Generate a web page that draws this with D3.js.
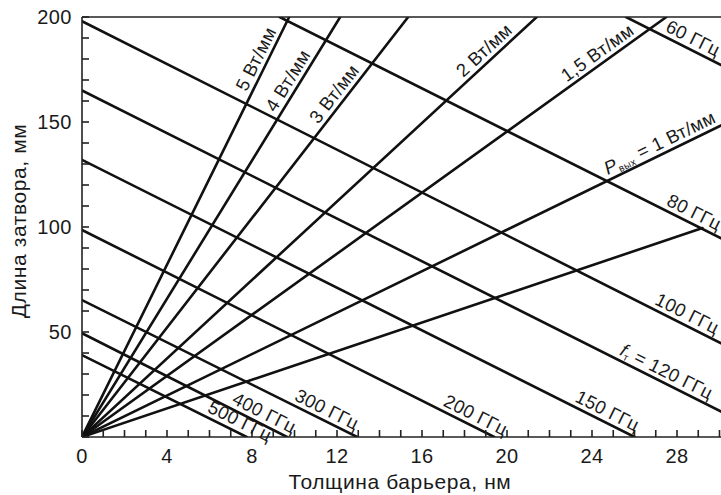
<!DOCTYPE html>
<html lang="ru">
<head>
<meta charset="UTF-8">
<title>Длина затвора vs толщина барьера</title>
<script src="https://d3js.org/d3.v7.min.js"></script>
<style>
  body { margin: 0; background: #fff; }
  text { font-family: "Liberation Sans", Arial, Helvetica, sans-serif; fill: #1a1a1a; }
</style>
</head>
<body>

<div id="chart"></div>

<script>

const width = 721;
const height = 495;

// Frequency lines (f_T), visible segment ends in data units (нм, мм)
const freqNames = ["500 ГГц", "400 ГГц", "300 ГГц", "200 ГГц", "150 ГГц", "120 ГГц", "100 ГГц", "80 ГГц", "60 ГГц"];
const freqX0 = [0, 0, 0, 0, 0, 0, 0, 9.3, 25.6];
const freqY0 = [39, 49.4, 65.2, 98.6, 132, 165, 198, 200, 200];
const freqX1 = [7.75, 9.65, 12.95, 19.4, 26.0, 30.2, 30.2, 30.2, 30.2];
const freqY1 = [0, 0, 0, 0, 0, 11.5, 44, 94, 176.5];
// where along each line the label starts (x, нм)
const freqLabelX = [5.75, 6.9, 9.85, 16.85, 23.05, 25.15, 26.8, 27.35, 27.3];

// Output power lines, all start at the origin
const powerNames = ["5 Вт/мм", "4 Вт/мм", "3 Вт/мм", "2 Вт/мм", "1,5 Вт/мм", "1 Вт/мм", ""];
const powerX1 = [9.75, 12.15, 15.35, 21.4, 27.5, 30.2, 29.2];
const powerY1 = [200, 200, 200, 200, 200, 149, 99.5];
const powerLabelX = [7.95, 9.3, 11.3, 18.1, 22.95, 24.85, null];

// Axis ticks
const xTickLabels = [0, 4, 8, 12, 16, 20, 24, 28];
const xMinorTicks = d3.range(0, 31, 1);
const yTickLabels = [50, 100, 150, 200];
const yMinorTicks = d3.range(0, 201, 10);

const x = d3.scaleLinear().domain([0, 30.2]).range([82, 82 + 30.2 * 21.25]);
const y = d3.scaleLinear().domain([0, 200]).range([437, 17]);

const svg = d3.select("#chart")
  .append("svg")
    .attr("width", width)
    .attr("height", height);

svg.append("defs").append("clipPath")
    .attr("id", "plot")
  .append("rect")
    .attr("x", x(0)).attr("y", y(200))
    .attr("width", x(30.2) - x(0)).attr("height", y(0) - y(200));

// build the segments from the arrays above
const freqLines = freqNames.map((name, i) => ({
  name, x0: freqX0[i], y0: freqY0[i], x1: freqX1[i], y1: freqY1[i], lx: freqLabelX[i]
}));
const powerLines = powerNames.map((name, i) => ({
  name, x0: 0, y0: 0, x1: powerX1[i], y1: powerY1[i], lx: powerLabelX[i]
}));
const allLines = freqLines.concat(powerLines);

svg.append("g")
    .attr("clip-path", "url(#plot)")
  .selectAll("line")
  .data(allLines)
  .join("line")
    .attr("x1", d => x(d.x0))
    .attr("y1", d => y(d.y0))
    .attr("x2", d => x(d.x1))
    .attr("y2", d => y(d.y1))
    .attr("stroke", "#111")
    .attr("stroke-width", 2.6)
    .attr("stroke-linecap", "round");

// axes frame: left, bottom, top
const frame = svg.append("g").attr("stroke", "#222").attr("stroke-width", 1.6);
frame.append("line").attr("x1", x(0)).attr("y1", y(0)).attr("x2", x(0)).attr("y2", y(200));
frame.append("line").attr("x1", x(0)).attr("y1", y(0)).attr("x2", width).attr("y2", y(0));
frame.append("line").attr("x1", x(0)).attr("y1", y(200)).attr("x2", width).attr("y2", y(200));

// inward ticks
frame.selectAll(".xt")
  .data(xMinorTicks)
  .join("line")
    .attr("class", "xt")
    .attr("x1", d => x(d)).attr("x2", d => x(d))
    .attr("y1", y(0)).attr("y2", y(0) - 7);

frame.selectAll(".yt")
  .data(yMinorTicks)
  .join("line")
    .attr("class", "yt")
    .attr("x1", x(0)).attr("x2", x(0) + 7)
    .attr("y1", d => y(d)).attr("y2", d => y(d));

svg.selectAll(".xl")
  .data(xTickLabels)
  .join("text")
    .attr("class", "xl")
    .attr("x", d => x(d))
    .attr("y", y(0) + 26)
    .attr("text-anchor", "middle")
    .style("font-size", "20px")
    .style("letter-spacing", "0.5px")
    .text(d => d);

svg.selectAll(".yl")
  .data(yTickLabels)
  .join("text")
    .attr("class", "yl")
    .attr("x", x(0) - 10)
    .attr("y", d => y(d) + 7)
    .attr("text-anchor", "end")
    .style("font-size", "20px")
    .style("letter-spacing", "0.5px")
    .text(d => d);

// axis titles
svg.append("text")
    .attr("x", 400)
    .attr("y", 489)
    .attr("text-anchor", "middle")
    .style("font-size", "21px")
    .style("letter-spacing", "0.6px")
    .text("Толщина барьера, нм");

svg.append("text")
    .attr("transform", "translate(26," + 221 + ") rotate(-90)")
    .attr("text-anchor", "middle")
    .style("font-size", "21px")
    .style("letter-spacing", "0.6px")
    .text("Длина затвора, мм");

// labels that run along their lines
function placeLabel(d) {
  const t = (d.lx - d.x0) / (d.x1 - d.x0);
  const px = x(d.x0) + t * (x(d.x1) - x(d.x0));
  const py = y(d.y0) + t * (y(d.y1) - y(d.y0));
  const ang = Math.atan2(y(d.y1) - y(d.y0), x(d.x1) - x(d.x0)) * 180 / Math.PI;
  return "translate(" + px + "," + py + ") rotate(" + ang + ")";
}

const labels = svg.selectAll(".lab")
  .data(allLines.filter(d => d.lx != null))
  .join("text")
    .attr("class", "lab")
    .attr("transform", placeLabel)
    .attr("y", -5)
    .style("font-size", "18.5px")
    .style("letter-spacing", "0.3px");

labels.each(function(d) {
  const t = d3.select(this);
  if (d.name === "1 Вт/мм") {
    t.append("tspan").style("font-style", "italic").text("P");
    t.append("tspan").style("font-size", "10px").attr("dy", 3).text("вых");
    t.append("tspan").attr("dy", -3).text(" = " + d.name);
  } else if (d.name === "120 ГГц") {
    t.append("tspan").style("font-style", "italic").text("f");
    t.append("tspan").style("font-size", "10px").attr("dy", 3).text("т");
    t.append("tspan").attr("dy", -3).text(" = " + d.name);
  } else {
    t.text(d.name);
  }
});

</script>

</body>
</html>
